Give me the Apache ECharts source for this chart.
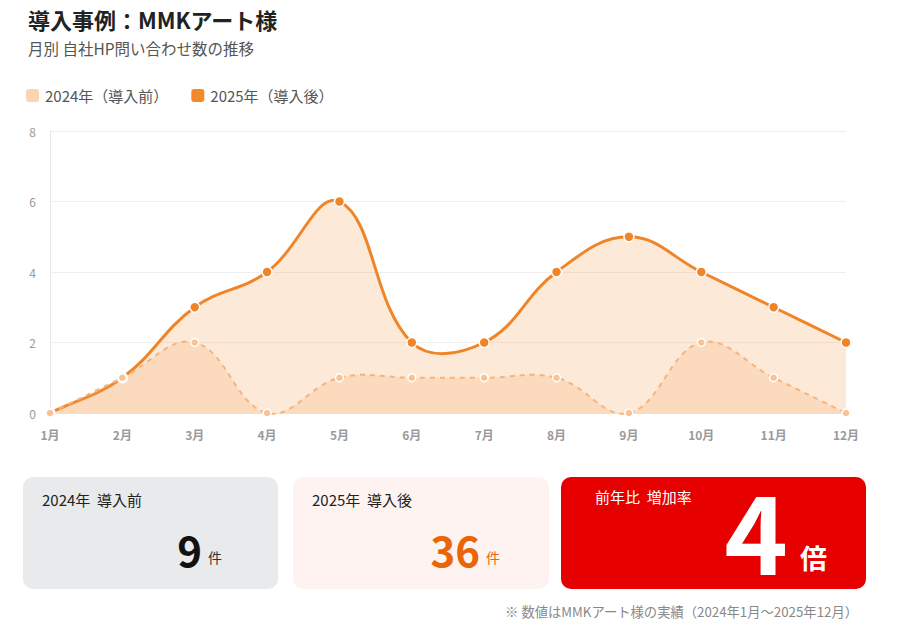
<!DOCTYPE html>
<html><head><meta charset="utf-8">
<script src="https://cdn.jsdelivr.net/npm/echarts@6/dist/echarts.min.js"></script>
<style>html,body{margin:0;padding:0;background:#fff;}#c{width:900px;height:638px;}</style>
</head><body><div id="c"></div>
<script>
const months = ['1月','2月','3月','4月','5月','6月','7月','8月','9月','10月','11月','12月'];
const before2024 = [0,1,2,0,1,1,1,1,0,2,1,0];
const after2025 = [0,1,3,4,6,2,2,4,5,4,3,2];
const seriesNames = ['2024年（導入前）','2025年（導入後）'];
const yTicks = {min:0, max:8, interval:2};
const cardTexts = {
  c1Label:'2024年  導入前', c1Value:'9', c1Unit:'件',
  c2Label:'2025年  導入後', c2Value:'36', c2Unit:'件',
  c3Label:'前年比  増加率', c3Value:'4', c3Unit:'倍'
};
const titleText = '導入事例：MMKアート様';
const subText = '月別 自社HP問い合わせ数の推移';
const noteText = '※ 数値はMMKアート様の実績（2024年1月～2025年12月）';

const F = '"Noto Sans CJK JP","Noto Sans",sans-serif';
const TENSION = 0.4;

// Build a cardinal-style spline path through the pixel positions given by the chart's scales
function splinePath(pts){
  const n = pts.length;
  const cps = pts.map((p,i)=>{
    const prev = pts[Math.max(i-1,0)], next = pts[Math.min(i+1,n-1)];
    const d01 = Math.hypot(p[0]-prev[0], p[1]-prev[1]);
    const d12 = Math.hypot(next[0]-p[0], next[1]-p[1]);
    let s01 = d01/(d01+d12), s12 = d12/(d01+d12);
    if (!isFinite(s01)) s01 = 0; if (!isFinite(s12)) s12 = 0;
    const fa = TENSION*s01, fb = TENSION*s12;
    return {
      prev:[p[0]-fa*(next[0]-prev[0]), p[1]-fa*(next[1]-prev[1])],
      next:[p[0]+fb*(next[0]-prev[0]), p[1]+fb*(next[1]-prev[1])]
    };
  });
  let d = 'M' + pts[0][0] + ' ' + pts[0][1];
  for (let i=1;i<n;i++){
    const a = cps[i-1].next, b = cps[i].prev, p = pts[i];
    d += ' C' + a[0] + ' ' + a[1] + ' ' + b[0] + ' ' + b[1] + ' ' + p[0] + ' ' + p[1];
  }
  return d;
}
function curveSeries(values, lineStyle, areaFill, z){
  return {
    type:'custom', coordinateSystem:'cartesian2d', data:[[0,0]], z:z, silent:true,
    renderItem:function(params, api){
      const pts = values.map((v,i)=>api.coord([i, v]));
      const base = api.coord([0, yTicks.min])[1];
      const line = splinePath(pts);
      const area = line + ' L' + pts[pts.length-1][0] + ' ' + base + ' L' + pts[0][0] + ' ' + base + ' Z';
      return {type:'group', children:[
        {type:'path', shape:{pathData:area}, style:{fill:areaFill, stroke:null}},
        {type:'path', shape:{pathData:line}, style:Object.assign({fill:null}, lineStyle)}
      ]};
    }
  };
}

const chart = echarts.init(document.getElementById('c'), null, {renderer:'svg'});
chart.setOption({
  animation:false,
  textStyle:{fontFamily:F},
  title:{text:titleText, subtext:subText, left:23, top:3,
    textStyle:{fontSize:22, fontWeight:'bold', color:'#222', fontFamily:F},
    subtextStyle:{fontSize:15.5, color:'#555', fontFamily:F}, itemGap:10},
  legend:{left:19, top:82, itemWidth:15, itemHeight:15, itemGap:21, icon:'roundRect',
    textStyle:{fontSize:15, color:'#555', fontFamily:F},
    data:[{name:seriesNames[0], itemStyle:{color:'#fdd4ae'}},
          {name:seriesNames[1], itemStyle:{color:'#f28a2a'}}]},
  grid:{left:50, right:54, top:131, bottom:225, containLabel:false},
  xAxis:{type:'category', data:months, boundaryGap:false,
    axisLine:{lineStyle:{color:'#e2e2e2'}}, axisTick:{show:false},
    axisLabel:{color:'#9a9a9a', fontSize:12, fontWeight:'bold', margin:15, fontFamily:F}},
  yAxis:{type:'value', min:yTicks.min, max:yTicks.max, interval:yTicks.interval,
    axisLine:{show:true, lineStyle:{color:'#e8e8e8'}}, axisTick:{show:false},
    splitLine:{lineStyle:{color:'#efefef'}},
    axisLabel:{color:'#9a9a9a', fontSize:12, margin:14, fontFamily:F}},
  series:[
    curveSeries(after2025, {stroke:'#ef8528', lineWidth:3}, 'rgba(242,137,42,0.19)', 1),
    curveSeries(before2024, {stroke:'#f6b47c', lineWidth:2, lineDash:[5,5]}, 'rgba(246,160,90,0.2)', 2),
    {name:seriesNames[1], type:'line', data:after2025, z:4,
      symbol:'circle', symbolSize:10, lineStyle:{opacity:0, width:0},
      itemStyle:{color:'#ef8528', borderColor:'#fff', borderWidth:1.5}},
    {name:seriesNames[0], type:'line', data:before2024, z:5,
      symbol:'circle', symbolSize:8, lineStyle:{opacity:0, width:0},
      itemStyle:{color:'#f8c293', borderColor:'#fff', borderWidth:1.5}}
  ],
  graphic:[
    {type:'rect', shape:{x:23, y:477, width:255, height:112, r:10}, style:{fill:'#e9eaec'}},
    {type:'text', x:42, y:492, style:{text:cardTexts.c1Label, fill:'#222', font:'15px '+F}},
    {type:'text', x:202, y:548, style:{text:cardTexts.c1Value, fill:'#111', font:'bold 42px '+F, textAlign:'right', textVerticalAlign:'middle'}},
    {type:'text', x:208, y:557, style:{text:cardTexts.c1Unit, fill:'#333', font:'14px '+F, textVerticalAlign:'middle'}},

    {type:'rect', shape:{x:293, y:477, width:256, height:112, r:10}, style:{fill:'#fff3f1'}},
    {type:'text', x:312, y:492, style:{text:cardTexts.c2Label, fill:'#222', font:'15px '+F}},
    {type:'text', x:480, y:548, style:{text:cardTexts.c2Value, fill:'#e8650a', font:'bold 42px '+F, textAlign:'right', textVerticalAlign:'middle'}},
    {type:'text', x:486, y:557, style:{text:cardTexts.c2Unit, fill:'#e8650a', font:'14px '+F, textVerticalAlign:'middle'}},

    {type:'rect', shape:{x:561, y:477, width:305, height:112, r:10}, style:{fill:'#e60000'}},
    {type:'text', x:595, y:489, style:{text:cardTexts.c3Label, fill:'#fff', font:'15px '+F}},
    {type:'text', x:788, y:528, style:{text:cardTexts.c3Value, fill:'#fff', font:'bold 108px '+F, textAlign:'right', textVerticalAlign:'middle'}},
    {type:'text', x:800, y:557, style:{text:cardTexts.c3Unit, fill:'#fff', font:'bold 27px '+F, textVerticalAlign:'middle'}},

    {type:'text', x:858, y:611, style:{text:noteText, fill:'#888', font:'13.3px '+F, textAlign:'right', textVerticalAlign:'middle'}}
  ]
});
</script></body></html>
